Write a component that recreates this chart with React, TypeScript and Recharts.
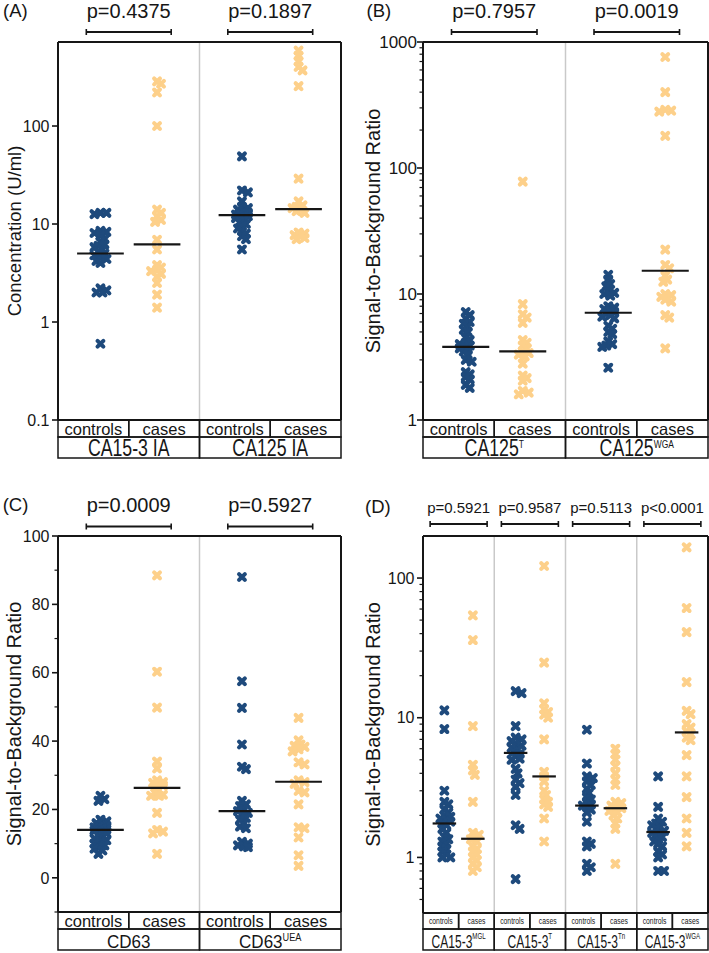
import React from 'react';
import { ScatterChart, Scatter, XAxis, YAxis, ReferenceLine } from 'recharts';

const NAVY = '#1e4a7c';
const PEACH = '#fdd08a';
const INK = '#161616';
const SEP = '#c9c9c9';
const FONT = 'Arial, "Liberation Sans", Helvetica, sans-serif';

const subLabels = ['controls', 'cases'];

// (A) immunoassay concentrations, U/ml
const aNames = ['CA15-3 IA', 'CA125 IA'];
const aPValues = ['p=0.4375', 'p=0.1897'];
const aCa153Controls = [13, 13, 12.6, 8.5, 8.3, 8.1, 7.6, 7.0, 6.6, 6.2, 6.0, 5.8, 5.5, 5.2, 5.0, 4.8, 4.6, 4.4, 4.2, 4.0, 2.2, 2.1, 2.0, 2.0, 0.6];
const aCa153Cases = [285, 270, 220, 100, 14, 13, 12, 11, 10.5, 6.9, 5.5, 3.8, 3.6, 3.4, 3.3, 3.1, 2.9, 2.5, 1.9, 1.4];
const aCa125Controls = [49, 22, 21, 17, 15, 14.5, 14, 13.5, 13, 12.8, 12.5, 12.3, 12, 11.8, 11.5, 11, 10.5, 10, 9.5, 9, 8.5, 8, 7.5, 7, 5.5];
const aCa125Cases = [590, 520, 460, 400, 370, 255, 29, 17, 15.5, 15, 14.5, 14, 13.5, 13, 8.2, 8, 7.7, 7.5, 7.2, 7];
const aMedians = [5.0, 6.2, 12.3, 14.2];

// (B)
const bNames = ['CA125', 'CA125'];
const bSups = ['T', 'WGA'];
const bPValues = ['p=0.7957', 'p=0.0019'];
const bTControls = [7.2, 6.8, 6.4, 6.0, 5.8, 5.5, 5.2, 5.0, 4.5, 4.3, 4.1, 4.0, 3.9, 3.8, 3.7, 3.6, 3.5, 3.3, 3.0, 2.9, 2.4, 2.3, 2.2, 2.1, 1.9, 1.8];
const bTCases = [78, 8.3, 6.9, 6.5, 5.9, 4.3, 4.1, 3.9, 3.7, 3.5, 3.4, 3.3, 3.2, 2.8, 2.25, 2.15, 2.05, 1.7, 1.65, 1.6];
const bWgaControls = [14.2, 13, 12, 11.5, 10.5, 10.2, 10, 9.7, 8, 7.8, 7.6, 7.4, 7.2, 7.0, 6.8, 6.6, 6.4, 5.6, 5.3, 5.0, 4.8, 4.2, 4.0, 3.9, 3.8, 2.6];
const bWgaCases = [760, 400, 290, 285, 280, 180, 22.5, 17, 16, 14, 13, 12.5, 10, 9.8, 9.5, 9, 8.7, 6.8, 6.5, 3.7];
const bMedians = [3.8, 3.5, 7.1, 15.3];

// (C)
const cNames = ['CD63', 'CD63'];
const cSups = ['', 'UEA'];
const cPValues = ['p=0.0009', 'p=0.5927'];
const cCd63Controls = [24, 23, 22.5, 17, 16.5, 16, 15.5, 15.2, 15, 14.8, 14.5, 14.2, 14, 13.8, 13.5, 13, 12.5, 12, 11.5, 11, 10.5, 10, 9.5, 9, 8.5, 8, 7];
const cCd63Cases = [88.5, 60.3, 49.8, 34, 32, 28.5, 28, 27.8, 27.5, 27, 26.5, 24.5, 24.3, 24, 24, 19, 14, 13.5, 13, 7];
const cUeaControls = [88, 57.5, 49.7, 39, 32.5, 31.8, 22.5, 21.5, 21, 20, 19.5, 19, 18.5, 17.5, 17, 16, 15, 14.5, 10.5, 10, 9.5, 9.2, 9];
const cUeaCases = [46.8, 40.2, 39, 38.6, 38.3, 37.6, 37, 33.8, 33.2, 28.5, 28, 27.5, 25.4, 25, 21.5, 14.8, 14.5, 11.8, 6.6, 3.5];
const cMedians = [14.0, 26.3, 19.5, 28.1];

// (D)
const dNames = ['CA15-3', 'CA15-3', 'CA15-3', 'CA15-3'];
const dSups = ['MGL', 'T', 'Tn', 'WGA'];
const dPValues = ['p=0.5921', 'p=0.9587', 'p=0.5113', 'p<0.0001'];
const dMglControls = [11.3, 8.3, 3.0, 2.5, 2.4, 2.2, 2.1, 2.0, 1.95, 1.9, 1.85, 1.8, 1.75, 1.7, 1.6, 1.5, 1.4, 1.35, 1.3, 1.25, 1.2, 1.15, 1.1, 1.05, 1.0, 1.0];
const dMglCases = [54, 36, 8.7, 4.6, 4.2, 3.9, 2.5, 1.5, 1.45, 1.4, 1.35, 1.3, 1.2, 1.15, 1.1, 1.05, 1.0, 0.95, 0.9, 0.85, 0.8];
const dTControls = [15.5, 15, 8.7, 7.2, 7.0, 6.8, 6.5, 6.3, 6.1, 5.9, 5.7, 5.5, 5.3, 5.1, 5.0, 4.3, 4.0, 3.6, 3.4, 3.2, 2.8, 1.7, 1.6, 0.7];
const dTCases = [122, 24.8, 12.7, 11.5, 11, 10.5, 10, 7, 4.1, 3.8, 3.5, 3.0, 2.8, 2.6, 2.5, 2.4, 2.3, 1.9, 1.3];
const dTnControls = [8.2, 4.7, 3.8, 3.7, 3.5, 3.3, 3.1, 2.9, 2.7, 2.6, 2.5, 2.4, 2.35, 2.3, 2.2, 2.1, 1.8, 1.3, 1.25, 1.2, 0.9, 0.85, 0.8];
const dTnCases = [6.0, 5.5, 5.0, 4.5, 4.0, 3.6, 3.3, 2.5, 2.45, 2.35, 2.3, 2.25, 2.2, 2.15, 2.1, 2.0, 1.9, 1.75, 1.6, 0.9];
const dWgaControls = [3.8, 2.3, 1.9, 1.8, 1.75, 1.7, 1.65, 1.6, 1.55, 1.5, 1.5, 1.45, 1.4, 1.35, 1.3, 1.25, 1.2, 1.1, 1.05, 1.0, 0.8, 0.8];
const dWgaCases = [166, 61, 41, 18, 11.2, 10.6, 9.0, 8.5, 8.0, 7.6, 7.2, 6.9, 5.4, 3.8, 2.7, 1.9, 1.5, 1.2];
const dMedians = [1.75, 1.36, 5.6, 3.8, 2.35, 2.25, 1.52, 7.85];

const logMinorB = [2, 3, 4, 5, 6, 7, 8, 9, 20, 30, 40, 50, 60, 70, 80, 90, 200, 300, 400, 500, 600, 700, 800, 900];
const logMinorD = [0.5, 0.6, 0.7, 0.8, 0.9, 2, 3, 4, 5, 6, 7, 8, 9, 20, 30, 40, 50, 60, 70, 80, 90];
const linMinorC = [-10, 10, 30, 50, 70, 90];

type Group = { name: string; sup: string; p: string; controls: number[]; cases: number[]; medControls: number; medCases: number };

type Panel = {
  letter: string; letterX: number; letterY: number;
  left: number; top: number; width: number; height: number;
  yWidth: number; mRight: number; mBottom: number;
  topH: number; subH: number; grpH: number;
  scale: 'log' | 'linear'; domain: [number, number];
  major: number[]; minor: number[];
  yLabel: string; yLabelX: number; yLabelFont: number;
  tickFont: number; tickGap: number;
  pFont: number; pBase: number; bracketGap: number; bracketHalf: number;
  subFont: number; subScale: number; subBase: number;
  grpFont: number; grpScale: number; grpBase: number; supFont: number; supDy: number;
  groups: Group[];
};

const mkGroups = (names: string[], sups: string[], ps: string[], cols: number[][], meds: number[]): Group[] =>
  names.map((name, i) => ({
    name, sup: sups[i], p: ps[i],
    controls: cols[i * 2], cases: cols[i * 2 + 1],
    medControls: meds[i * 2], medCases: meds[i * 2 + 1],
  }));

const panels: Panel[] = [
  {
    letter: '(A)', letterX: 3, letterY: 16.5,
    left: 0, top: 0, width: 350, height: 470, yWidth: 58, mRight: 9, mBottom: 12,
    topH: 42, subH: 17, grpH: 21,
    scale: 'log', domain: [0.1, 720], major: [0.1, 1, 10, 100], minor: [],
    yLabel: 'Concentration (U/ml)', yLabelX: 20.5, yLabelFont: 18.5, tickFont: 16, tickGap: 8.5,
    pFont: 20, pBase: 24, bracketGap: 10, bracketHalf: 0.6,
    subFont: 16.5, subScale: 1, subBase: 14.5,
    grpFont: 23, grpScale: 0.77, grpBase: 19, supFont: 11, supDy: -8,
    groups: mkGroups(aNames, ['', ''], aPValues, [aCa153Controls, aCa153Cases, aCa125Controls, aCa125Cases], aMedians),
  },
  {
    letter: '(B)', letterX: 366.5, letterY: 16.5,
    left: 355, top: 0, width: 354, height: 470, yWidth: 68, mRight: 1, mBottom: 12,
    topH: 42, subH: 17, grpH: 21,
    scale: 'log', domain: [1, 1000], major: [1, 10, 100, 1000], minor: logMinorB,
    yLabel: 'Signal-to-Background Ratio', yLabelX: 25, yLabelFont: 20, tickFont: 17, tickGap: 6,
    pFont: 20, pBase: 24, bracketGap: 10, bracketHalf: 0.6,
    subFont: 16.5, subScale: 1, subBase: 14.5,
    grpFont: 23, grpScale: 0.77, grpBase: 19, supFont: 11, supDy: -8,
    groups: mkGroups(bNames, bSups, bPValues, [bTControls, bTCases, bWgaControls, bWgaCases], bMedians),
  },
  {
    letter: '(C)', letterX: 2.7, letterY: 511.3,
    left: 0, top: 494, width: 350, height: 459, yWidth: 58, mRight: 9, mBottom: 3,
    topH: 42, subH: 17, grpH: 21,
    scale: 'linear', domain: [-10, 100], major: [0, 20, 40, 60, 80, 100], minor: linMinorC,
    yLabel: 'Signal-to-Background Ratio', yLabelX: 20.5, yLabelFont: 20, tickFont: 16, tickGap: 8.5,
    pFont: 20, pBase: 24, bracketGap: 9.5, bracketHalf: 0.6,
    subFont: 16.5, subScale: 1, subBase: 14.5,
    grpFont: 18.5, grpScale: 0.92, grpBase: 19, supFont: 10, supDy: -7.5,
    groups: mkGroups(cNames, cSups, cPValues, [cCd63Controls, cCd63Cases, cUeaControls, cUeaCases], cMedians),
  },
  {
    letter: '(D)', letterX: 365, letterY: 513,
    left: 355, top: 494, width: 354, height: 459, yWidth: 68, mRight: 1, mBottom: 3,
    topH: 42, subH: 16, grpH: 21,
    scale: 'log', domain: [0.4, 200], major: [1, 10, 100], minor: logMinorD,
    yLabel: 'Signal-to-Background Ratio', yLabelX: 25, yLabelFont: 20, tickFont: 16, tickGap: 8.5,
    pFont: 15, pBase: 23.3, bracketGap: 12, bracketHalf: 0.8,
    subFont: 8.5, subScale: 0.8, subBase: 11,
    grpFont: 18.5, grpScale: 0.65, grpBase: 19, supFont: 9.5, supDy: -9.5,
    groups: mkGroups(dNames, dSups, dPValues, [dMglControls, dMglCases, dTControls, dTCases, dTnControls, dTnCases, dWgaControls, dWgaCases], dMedians),
  },
];

// narrow dot-plot spread: push overlapping dots sideways a few pixels
function spreadOffsets(values: number[], toPx: (v: number) => number): number[] {
  const steps = [0, 2, -2, 4, -4, 6, -6];
  const minGap = 4.5;
  const order = values.map((_, i) => i).sort((a, b) => toPx(values[a]) - toPx(values[b]));
  const placed: { dx: number; py: number }[] = [];
  const out = values.map(() => 0);
  order.forEach((i) => {
    const py = toPx(values[i]);
    let best = 0;
    let bestGap = -1;
    for (const dx of steps) {
      let gap = Infinity;
      placed.forEach((q) => { gap = Math.min(gap, Math.hypot(q.dx - dx, q.py - py)); });
      if (gap >= minGap) { best = dx; break; }
      if (gap > bestGap) { bestGap = gap; best = dx; }
    }
    placed.push({ dx: best, py });
    out[i] = best;
  });
  return out;
}

function DotPanel({ cfg }: { cfg: Panel }) {
  const n = cfg.groups.length * 2;
  const plotW = cfg.width - cfg.yWidth - cfg.mRight;
  const plotH = cfg.height - cfg.mBottom - cfg.topH - cfg.subH - cfg.grpH;
  const cellW = plotW / n;
  const [lo, hi] = cfg.domain;
  const toPx = (v: number) => cfg.scale === 'log'
    ? (plotH * (Math.log10(hi) - Math.log10(v))) / (Math.log10(hi) - Math.log10(lo))
    : (plotH * (hi - v)) / (hi - lo);

  const columns = cfg.groups.flatMap((g, gi) => [
    { key: `c${gi}`, values: g.controls, median: g.medControls, center: gi * 2 + 0.6, color: NAVY },
    { key: `k${gi}`, values: g.cases, median: g.medCases, center: gi * 2 + 1.4, color: PEACH },
  ]);
  const subTicks = Array.from({ length: n }, (_, i) => i + 0.5);
  const groupTicks = cfg.groups.map((_, gi) => gi * 2 + 1);
  const separators = cfg.groups.slice(1).map((_, gi) => (gi + 1) * 2);
  const yTicks = [...cfg.major, ...cfg.minor].sort((a, b) => a - b);

  const yTick = (p: any) => {
    const v = p.payload.value;
    const isMajor = cfg.major.some((m) => Math.abs(m - v) < 1e-9);
    return (
      <g>
        <line x1={p.x - (isMajor ? 6 : 3.5)} x2={p.x} y1={p.y} y2={p.y} stroke={INK} strokeWidth={isMajor ? 1.6 : 1.2} />
        {isMajor && (
          <text x={p.x - cfg.tickGap} y={p.y} dy="0.36em" textAnchor="end" fontSize={cfg.tickFont} fontFamily={FONT} fill={INK}>
            {String(v)}
          </text>
        )}
      </g>
    );
  };

  const bracketTick = (p: any) => {
    const g = cfg.groups[p.index];
    if (!g) return <g />;
    const half = cfg.bracketHalf * cellW;
    const by = p.y - cfg.bracketGap;
    return (
      <g>
        <line x1={p.x - half} x2={p.x + half} y1={by} y2={by} stroke={INK} strokeWidth={1.8} />
        <line x1={p.x - half} x2={p.x - half} y1={by - 3} y2={by + 3} stroke={INK} strokeWidth={1.6} />
        <line x1={p.x + half} x2={p.x + half} y1={by - 3} y2={by + 3} stroke={INK} strokeWidth={1.6} />
        <text x={p.x} y={p.y - cfg.pBase} textAnchor="middle" fontSize={cfg.pFont} fontFamily={FONT} fill={INK}>{g.p}</text>
      </g>
    );
  };

  const subTick = (p: any) => (
    <g>
      <rect x={p.x - cellW / 2} y={p.y} width={cellW} height={cfg.subH} fill="none" stroke={INK} strokeWidth={1.5} />
      <text transform={`translate(${p.x},${p.y + cfg.subBase}) scale(${cfg.subScale},1)`} textAnchor="middle" fontSize={cfg.subFont} fontFamily={FONT} fill={INK}>
        {subLabels[p.index % 2]}
      </text>
    </g>
  );

  const groupTick = (p: any) => {
    const g = cfg.groups[p.index];
    if (!g) return <g />;
    return (
      <g>
        <rect x={p.x - cellW} y={p.y} width={cellW * 2} height={cfg.grpH} fill="none" stroke={INK} strokeWidth={1.5} />
        <text transform={`translate(${p.x},${p.y + cfg.grpBase}) scale(${cfg.grpScale},1)`} textAnchor="middle" fontSize={cfg.grpFont} fontFamily={FONT} fill={INK}>
          {g.name}
          {g.sup && <tspan fontSize={cfg.supFont} dy={cfg.supDy}>{g.sup}</tspan>}
        </text>
      </g>
    );
  };

  const yLabel = () => (
    <text transform={`translate(${cfg.yLabelX},${cfg.topH + plotH / 2}) rotate(-90)`} textAnchor="middle" fontSize={cfg.yLabelFont} fontFamily={FONT} fill={INK}>
      {cfg.yLabel}
    </text>
  );

  const medianShape = (p: any) => (
    <line x1={p.cx - 0.33 * cellW} x2={p.cx + 0.33 * cellW} y1={p.cy} y2={p.cy} stroke={INK} strokeWidth={2.2} />
  );

  return (
    <div style={{ position: 'absolute', left: cfg.left, top: cfg.top }}>
      <ScatterChart width={cfg.width} height={cfg.height} margin={{ top: 0, right: cfg.mRight, bottom: cfg.mBottom, left: 0 }}>
        <XAxis xAxisId="top" orientation="top" type="number" dataKey="x" domain={[0, n]} allowDataOverflow ticks={groupTicks} interval={0}
          height={cfg.topH} tickSize={0} tickMargin={0} tickLine={false} axisLine={{ stroke: INK, strokeWidth: 2 }} tick={bracketTick} />
        <XAxis xAxisId="row1" type="number" dataKey="x" domain={[0, n]} allowDataOverflow ticks={subTicks} interval={0}
          height={cfg.subH} tickSize={0} tickMargin={0} tickLine={false} axisLine={{ stroke: INK, strokeWidth: 2 }} tick={subTick} />
        <XAxis xAxisId="row2" type="number" dataKey="x" domain={[0, n]} allowDataOverflow ticks={groupTicks} interval={0}
          height={cfg.grpH} tickSize={0} tickMargin={0} tickLine={false} axisLine={false} tick={groupTick} />
        <YAxis type="number" dataKey="y" scale={cfg.scale} domain={cfg.domain} allowDataOverflow ticks={yTicks} interval={0}
          width={cfg.yWidth} tickSize={0} tickMargin={0} tickLine={false} axisLine={{ stroke: INK, strokeWidth: 2 }} tick={yTick}
          label={{ content: yLabel }} />
        {separators.map((s) => (
          <ReferenceLine key={`sep${s}`} xAxisId="row1" x={s} stroke={SEP} strokeWidth={1.5} />
        ))}
        <ReferenceLine xAxisId="row1" x={n} stroke={INK} strokeWidth={2} />
        {columns.map((col) => {
          const offs = spreadOffsets(col.values, toPx);
          const data = col.values.map((v, i) => ({ x: col.center + offs[i] / cellW, y: v }));
          return (
            <Scatter key={col.key} xAxisId="row1" data={data} fill={col.color} isAnimationActive={false}
              shape={(p: any) => (
                <path d={`M${p.cx - 2.9},${p.cy - 2.9}L${p.cx + 2.9},${p.cy + 2.9}M${p.cx + 2.9},${p.cy - 2.9}L${p.cx - 2.9},${p.cy + 2.9}`}
                  stroke={col.color} strokeWidth={4.1} strokeLinecap="round" fill="none" />
              )} />
          );
        })}
        {columns.map((col) => (
          <Scatter key={`${col.key}m`} xAxisId="row1" data={[{ x: col.center, y: col.median }]} isAnimationActive={false} shape={medianShape} />
        ))}
      </ScatterChart>
    </div>
  );
}

export default function App() {
  return (
    <div style={{ position: 'absolute', left: 0, top: 0, width: 709, height: 953, background: '#fff', overflow: 'hidden' }}>
      {panels.map((p) => <DotPanel key={p.letter} cfg={p} />)}
      <svg width={709} height={953} style={{ position: 'absolute', left: 0, top: 0, pointerEvents: 'none' }}>
        {panels.map((p) => (
          <text key={p.letter} x={p.letterX} y={p.letterY} fontSize={18.5} fontFamily={FONT} fill={INK}>{p.letter}</text>
        ))}
      </svg>
    </div>
  );
}
